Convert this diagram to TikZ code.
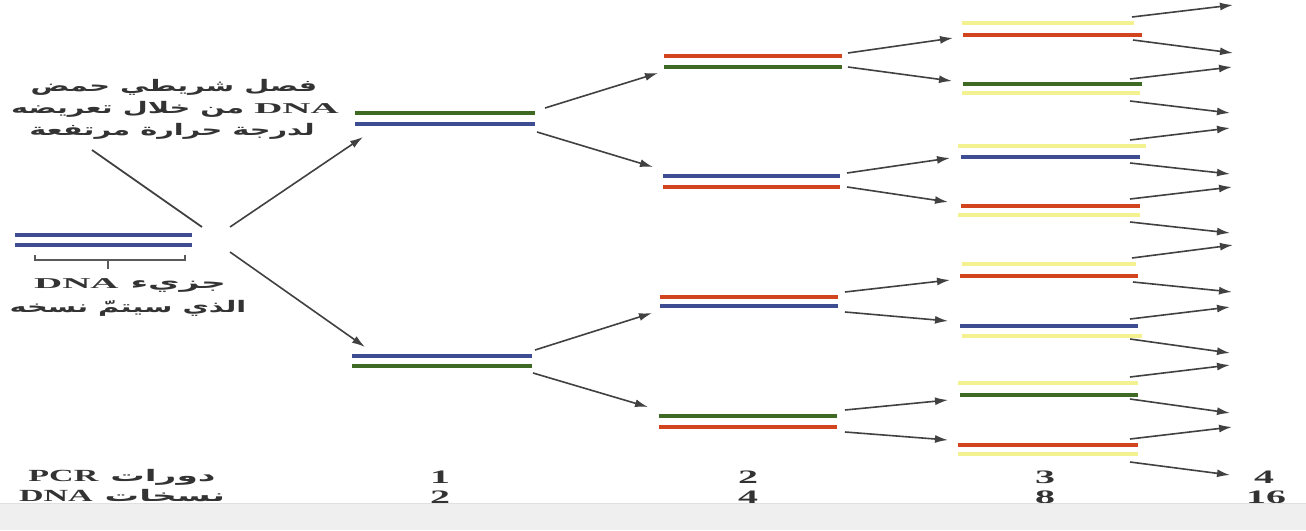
\documentclass[tikz,border=0pt]{standalone}
\usepackage{fontspec}
\usetikzlibrary{arrows.meta}
\TeXXeTstate=1
\newfontfamily\arabicfont[Script=Arabic,FakeStretch=1.8]{DejaVu Sans}
\newfontfamily\arabicwide[Script=Arabic,FakeStretch=2.15]{DejaVu Sans}
\newfontfamily\serifh[FakeStretch=2.6]{Liberation Serif}
\newfontfamily\serifw[FakeStretch=2.0]{Liberation Serif}
\newfontfamily\serifd[FakeStretch=2.1]{Liberation Serif}
\newcommand{\dnah}{{\serifh\bfseries\fontsize{15}{17}\selectfont DNA}}
\newcommand{\latw}[1]{{\serifw\bfseries\fontsize{17}{18}\selectfont #1}}
\definecolor{dred}{HTML}{D2441E}
\definecolor{dgreen}{HTML}{3E6A24}
\definecolor{dblue}{HTML}{3E4C92}
\definecolor{pyel}{HTML}{F4F290}
\definecolor{txtc}{HTML}{333333}
\definecolor{arrc}{HTML}{414141}
\definecolor{stripc}{HTML}{EFEFEF}
\begin{document}
\begin{tikzpicture}[x=1pt,y=-1pt,
  strand/.style={line width=3.6pt},
  newstrand/.style={line width=3.6pt, draw=pyel},
  conn/.style={draw=arrc, line width=1.6pt, -{Latex[length=13pt,width=8pt]}},
  plainline/.style={draw=arrc, line width=1.8pt},
  bracket/.style={draw=black!65, line width=1.3pt},
  ar/.style={text=txtc, inner sep=0pt, font=\arabicfont\bfseries\fontsize{16}{18}\selectfont},
  arw/.style={text=txtc, inner sep=0pt, font=\arabicwide\bfseries\fontsize{16}{18}\selectfont},
  num/.style={text=txtc, inner sep=0pt, font=\serifd\bfseries\fontsize{19}{20}\selectfont},
]
\useasboundingbox (0,0) rectangle (1306,530);
\fill[white] (0,0) rectangle (1306,530);

% ---- original DNA
\draw[strand,dblue] (15,235) -- (192,235);
\draw[strand,dblue] (15,245) -- (192,245);
\draw[bracket] (35,255) -- (35,260) -- (185,260) -- (185,255);
\draw[bracket] (108,260) -- (108,269);
\node[arw] (orig1) at (130,285) {\beginR جزيء \beginL\dnah\endL\endR};
\node[ar] (orig2) at (128,308) {\beginR الذي سيتمّ نسخه\endR};

% ---- heading text
\node[ar] (h1) at (174,87) {\beginR فصل شريطي حمض\endR};
\node[ar] (h2) at (175,109) {\beginR\beginL\dnah\endL\ من خلال تعريضه\endR};
\node[ar] (h3) at (172,131) {\beginR لدرجة حرارة مرتفعة\endR};

% ---- cycle 1
\draw[strand,dgreen] (355,113) -- (535,113);
\draw[strand,dblue]  (355,124) -- (535,124);
\draw[strand,dblue]  (352,356) -- (532,356);
\draw[strand,dgreen] (352,366) -- (532,366);

% ---- cycle 2
\draw[strand,dred]   (664,56) -- (842,56);
\draw[strand,dgreen] (664,67) -- (842,67);
\draw[strand,dblue]  (663,176) -- (840,176);
\draw[strand,dred]   (663,187) -- (840,187);
\draw[strand,dred]   (660,297) -- (838,297);
\draw[strand,dblue]  (660,306) -- (838,306);
\draw[strand,dgreen] (659,416) -- (837,416);
\draw[strand,dred]   (659,427) -- (837,427);

% ---- cycle 3 (yellow = new strands)
\draw[newstrand] (962,23) -- (1134,23);
\draw[strand,dred] (963,35) -- (1142,35);
\draw[strand,dgreen] (963,84) -- (1142,84);
\draw[newstrand] (962,93) -- (1140,93);
\draw[newstrand] (958,146) -- (1146,146);
\draw[strand,dblue] (961,157) -- (1140,157);
\draw[strand,dred] (961,206) -- (1140,206);
\draw[newstrand] (958,215) -- (1140,215);
\draw[newstrand] (962,264) -- (1136,264);
\draw[strand,dred] (960,276) -- (1138,276);
\draw[strand,dblue] (960,326) -- (1138,326);
\draw[newstrand] (962,336) -- (1142,336);
\draw[newstrand] (958,383) -- (1138,383);
\draw[strand,dgreen] (960,395) -- (1138,395);
\draw[strand,dred] (958,445) -- (1138,445);
\draw[newstrand] (958,454) -- (1138,454);

% ---- connectors
\coordinate (lt) at (92,150);
\coordinate (lh) at (202,227);
\draw[plainline] (lt) -- (lh);
\foreach \n/\tx/\ty/\hx/\hy in {
  a/230/227/363/137, b/230/252/365/347,
  c/545/108/658/73, d/537/132/653/167, e/535/350/652/313, f/533/373/648/407,
  g/848/53/953/38, h/848/67/952/81, i/847/173/950/158, j/847/187/948/202,
  k/845/292/950/280, l/845/312/948/321, m/845/410/948/400, n/845/432/948/440,
  o/1132/17/1233/5, p/1133/40/1233/53, q/1130/79/1232/67, r/1130/101/1230/113,
  s/1130/140/1230/128, t/1130/163/1230/174, u/1130/199/1232/187, v/1130/222/1230/233,
  w/1132/258/1233/245, x/1133/282/1232/292, y/1130/319/1230/307, z/1130/339/1230/353,
  A/1130/377/1230/365, B/1130/399/1230/413, C/1130/439/1232/427, D/1130/462/1230/475}{
  \coordinate (t\n) at (\tx,\ty);
  \coordinate (e\n) at (\hx,\hy);
  \draw[conn] (t\n) -- (e\n);
}

% ---- bottom rows
\node[arw] (cyc) at (122,477) {\beginR دورات \beginL\latw{PCR}\endL\endR};
\node[arw] (cop) at (122,496) {\beginR نسخات \beginL\latw{DNA}\endL\endR};
\node[num] (n1) at (440,477) {1};
\node[num] (n2) at (748,477) {2};
\node[num] (n3) at (1045,477) {3};
\node[num] (n4) at (1264,477) {4};
\node[num] (m1) at (440,497) {2};
\node[num] (m2) at (748,497) {4};
\node[num] (m3) at (1045,497) {8};
\node[num] (m4) at (1266,497) {16};

% ---- grey strip
\fill[stripc] (0,503) rectangle (1306,530);
\draw[black!12, line width=0.8pt] (0,503) -- (1306,503);
\end{tikzpicture}
\end{document}
